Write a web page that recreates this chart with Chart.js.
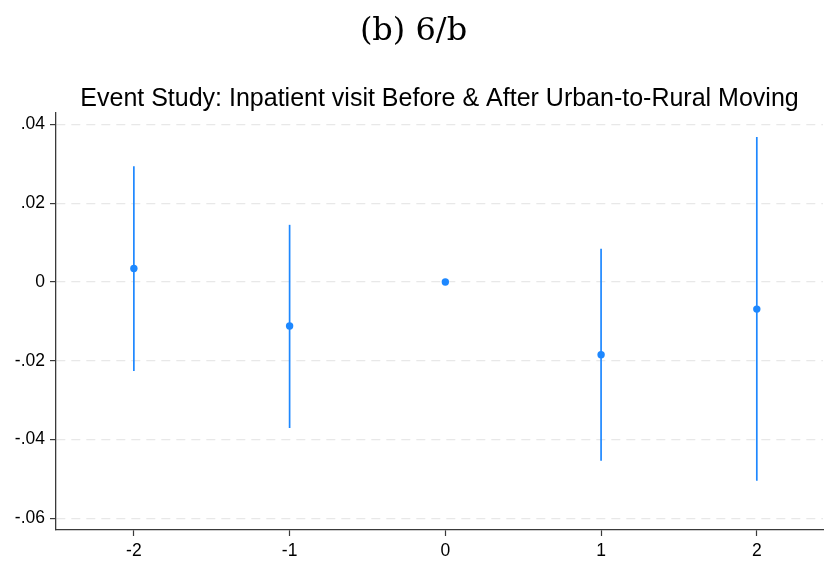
<!DOCTYPE html>
<html>
<head>
<meta charset="utf-8">
<script src="https://cdn.jsdelivr.net/npm/chart.js@4"></script>
<style>
  html, body { margin: 0; padding: 0; background: #fff; }
  #wrap { width: 827px; height: 561px; }
</style>
</head>
<body>
<div id="wrap"><canvas id="c" width="827" height="561"></canvas></div>
<script>
const periods = [-2, -1, 0, 1, 2];
const estimates = [0.0034, -0.0112, 0.0, -0.0185, -0.0069];
const ciLower = [-0.0226, -0.0371, 0.0, -0.0454, -0.0505];
const ciUpper = [0.0294, 0.0145, 0.0, 0.0084, 0.0368];
const yTicks = [-0.06, -0.04, -0.02, 0, 0.02, 0.04];
const xTicks = [-2, -1, 0, 1, 2];

const blue = '#1e88ff';
const axisCol = '#3a3a3a';

function fmt(v) {
  if (Math.abs(v) < 1e-9) return '0';
  let s = Math.abs(v).toFixed(2).replace(/^0/, '');
  return (v < 0 ? '-' : '') + s;
}

const datasets = [];
periods.forEach((p, i) => {
  if (ciLower[i] !== ciUpper[i]) {
    datasets.push({
      type: 'line',
      data: [{x: p, y: ciLower[i]}, {x: p, y: ciUpper[i]}],
      borderColor: blue,
      borderWidth: 1.7,
      pointRadius: 0,
      showLine: true,
      fill: false
    });
  }
});
datasets.push({
  type: 'scatter',
  data: periods.map((p, i) => ({x: p, y: estimates[i]})),
  backgroundColor: blue,
  borderColor: blue,
  pointRadius: 3.7,
  pointBorderWidth: 0
});

new Chart(document.getElementById('c'), {
  type: 'scatter',
  data: { datasets },
  options: {
    responsive: false,
    animation: false,
    devicePixelRatio: 1,
    layout: { padding: { left: 0, right: 0, top: 0, bottom: 0 } },
    plugins: {
      legend: { display: false },
      tooltip: { enabled: false },
      title: {
        display: true,
        text: '(b) 6/b',
        color: '#000',
        font: { family: 'DejaVu Serif', size: 32, weight: 'normal', lineHeight: 1.2 },
        padding: { top: 12.8, bottom: 11.4 }
      },
      subtitle: {
        display: true,
        fullSize: false,
        text: 'Event Study: Inpatient visit Before & After Urban-to-Rural Moving',
        color: '#000',
        font: { family: 'Liberation Sans', size: 25, weight: 'normal', lineHeight: 1.1 },
        padding: { top: 22.65, bottom: 0.25 }
      }
    },
    scales: {
      x: {
        type: 'linear',
        min: -2.5,
        max: 2.425,
        afterBuildTicks: s => { s.ticks = xTicks.map(v => ({value: v})); },
        afterFit: s => { s.height = 31; },
        grid: { drawOnChartArea: false, drawTicks: true, tickLength: 6, tickColor: axisCol, tickWidth: 1.2 },
        border: { display: true, color: axisCol, width: 1.3 },
        ticks: {
          color: '#000',
          padding: 5,
          font: { family: 'Liberation Sans', size: 17.5 },
          callback: v => String(v)
        }
      },
      y: {
        type: 'linear',
        min: -0.063,
        max: 0.0429,
        afterBuildTicks: s => { s.ticks = yTicks.map(v => ({value: v})); },
        afterFit: s => { s.width = 56; },
        grid: { color: '#e8e8e8', lineWidth: 1.2, drawTicks: true, tickLength: 6, tickColor: axisCol, tickWidth: 1.2, tickBorderDash: [] },
        border: { display: true, color: axisCol, width: 1.3, dash: [9, 6] },
        ticks: {
          color: '#000',
          padding: 5,
          font: { family: 'Liberation Sans', size: 17.5 },
          callback: v => fmt(v)
        }
      }
    }
  }
});
</script>
</body>
</html>
